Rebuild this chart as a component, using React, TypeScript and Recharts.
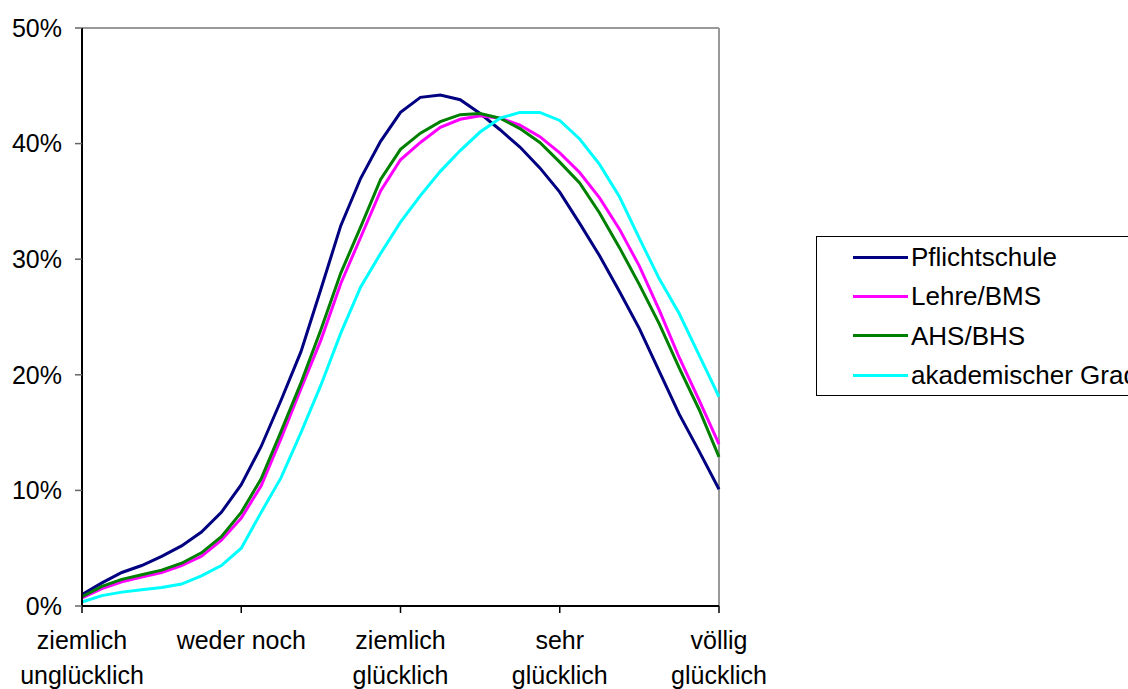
import React from 'react';
import { LineChart, Line, XAxis, YAxis, ReferenceLine, Legend } from 'recharts';

const FONT = '"Liberation Sans", Arial, sans-serif';

// Category labels (x = 0..4)
const categories: string[][] = [
  ['ziemlich', 'unglücklich'],
  ['weder noch'],
  ['ziemlich', 'glücklich'],
  ['sehr', 'glücklich'],
  ['völlig', 'glücklich'],
];

const yTicks = [0, 10, 20, 30, 40, 50];

// Positions along the scale (in category units)
const positions = [
  0, 0.125, 0.25, 0.375, 0.5, 0.625, 0.75, 0.875,
  1, 1.125, 1.25, 1.375, 1.5, 1.625, 1.75, 1.875,
  2, 2.125, 2.25, 2.375, 2.5, 2.625, 2.75, 2.875,
  3, 3.125, 3.25, 3.375, 3.5, 3.625, 3.75, 3.875,
  4,
];

const seriesNames = ['Pflichtschule', 'Lehre/BMS', 'AHS/BHS', 'akademischer Grad'];
const seriesColors = ['#000080', '#FF00FF', '#008000', '#00FFFF'];

const pflichtschule = [
  1.0, 2.0, 2.9, 3.5, 4.3, 5.2, 6.4, 8.1,
  10.5, 13.8, 17.8, 22.0, 27.4, 32.9, 37.0, 40.2,
  42.7, 44.0, 44.2, 43.8, 42.6, 41.2, 39.7, 37.9,
  35.8, 33.1, 30.3, 27.2, 24.0, 20.3, 16.6, 13.4,
  10.1,
];

const lehre = [
  0.7, 1.5, 2.1, 2.5, 2.9, 3.5, 4.3, 5.7,
  7.6, 10.4, 14.5, 18.8, 23.0, 27.9, 31.9, 35.9,
  38.6, 40.1, 41.4, 42.1, 42.4, 42.2, 41.6, 40.6,
  39.2, 37.5, 35.3, 32.6, 29.4, 25.6, 21.5, 17.8,
  14.0,
];

const ahs = [
  0.8, 1.7, 2.3, 2.7, 3.1, 3.7, 4.6, 6.0,
  8.1, 11.0, 15.1, 19.3, 23.9, 28.8, 32.8, 36.9,
  39.5, 40.9, 41.9, 42.5, 42.6, 42.2, 41.3, 40.1,
  38.4, 36.6, 34.0, 31.0, 27.8, 24.4, 20.6, 17.0,
  12.9,
];

const akademisch = [
  0.35, 0.9, 1.2, 1.4, 1.6, 1.9, 2.6, 3.5,
  5.0, 8.1, 11.1, 15.0, 19.1, 23.6, 27.6, 30.5,
  33.2, 35.5, 37.6, 39.4, 41.0, 42.2, 42.7, 42.7,
  42.0, 40.4, 38.2, 35.4, 31.8, 28.3, 25.3, 21.7,
  18.1,
];

const data = positions.map((x, i) => ({
  x,
  p: pflichtschule[i],
  l: lehre[i],
  a: ahs[i],
  k: akademisch[i],
}));

const keys = ['p', 'l', 'a', 'k'];

const XTick = (props: any) => {
  const { x, y, payload } = props;
  const idx = Math.round(payload.value);
  const lines = categories[idx] || [];
  return (
    <g>
      <text x={x} y={y} textAnchor="middle" fontSize={25} fontFamily={FONT} fill="#000">
        {lines.map((t, i) => (
          <tspan key={i} x={x} y={y + 36 + i * 35}>
            {t}
          </tspan>
        ))}
      </text>
    </g>
  );
};

const LegendBox = () => (
  <div
    style={{
      position: 'relative',
      width: 340,
      height: 160,
      border: '1px solid #000',
      boxSizing: 'border-box',
      background: '#fff',
      fontFamily: FONT,
      fontSize: 26,
      color: '#000',
    }}
  >
    {seriesNames.map((name, i) => {
      const cy = 20 + i * 39.4;
      return (
        <React.Fragment key={name}>
          <div
            style={{
              position: 'absolute',
              left: 36,
              top: cy - 1.5,
              width: 55,
              height: 3,
              background: seriesColors[i],
            }}
          />
          <div
            style={{
              position: 'absolute',
              left: 94,
              top: cy - 15,
              lineHeight: '30px',
              whiteSpace: 'nowrap',
            }}
          >
            {name}
          </div>
        </React.Fragment>
      );
    })}
  </div>
);

export default function App() {
  return (
    <div
      style={{
        position: 'absolute',
        left: 0,
        top: 0,
        width: 1128,
        height: 689,
        overflow: 'hidden',
        background: '#fff',
      }}
    >
      <LineChart
        width={1128}
        height={689}
        data={data}
        margin={{ top: 28, right: 409, bottom: 0, left: 0 }}
      >
        <XAxis
          type="number"
          dataKey="x"
          domain={[0, 4]}
          ticks={[0, 1, 2, 3, 4]}
          interval={0}
          height={83}
          tickSize={7}
          tickMargin={0}
          axisLine={{ stroke: '#000', strokeWidth: 2 }}
          tickLine={{ stroke: '#000', strokeWidth: 1.5 }}
          tick={<XTick />}
        />
        <YAxis
          type="number"
          domain={[0, 50]}
          ticks={yTicks}
          interval={0}
          width={82}
          tickSize={7}
          tickMargin={13}
          axisLine={{ stroke: '#000', strokeWidth: 2 }}
          tickLine={{ stroke: '#666', strokeWidth: 1.5 }}
          tick={{ fill: '#000', fontSize: 25, fontFamily: FONT }}
          tickFormatter={(v: number) => `${v}%`}
        />
        <ReferenceLine y={50} stroke="#999" strokeWidth={2} />
        <ReferenceLine x={4} stroke="#999" strokeWidth={2} />
        {keys.map((k, i) => (
          <Line
            key={k}
            type="linear"
            dataKey={k}
            name={seriesNames[i]}
            stroke={seriesColors[i]}
            strokeWidth={3}
            dot={false}
            activeDot={false}
            isAnimationActive={false}
          />
        ))}
        <Legend
          layout="horizontal"
          align="center"
          verticalAlign="middle"
          wrapperStyle={{ left: 816, top: 236, width: 340, height: 160 }}
          content={() => <LegendBox />}
        />
      </LineChart>
    </div>
  );
}
